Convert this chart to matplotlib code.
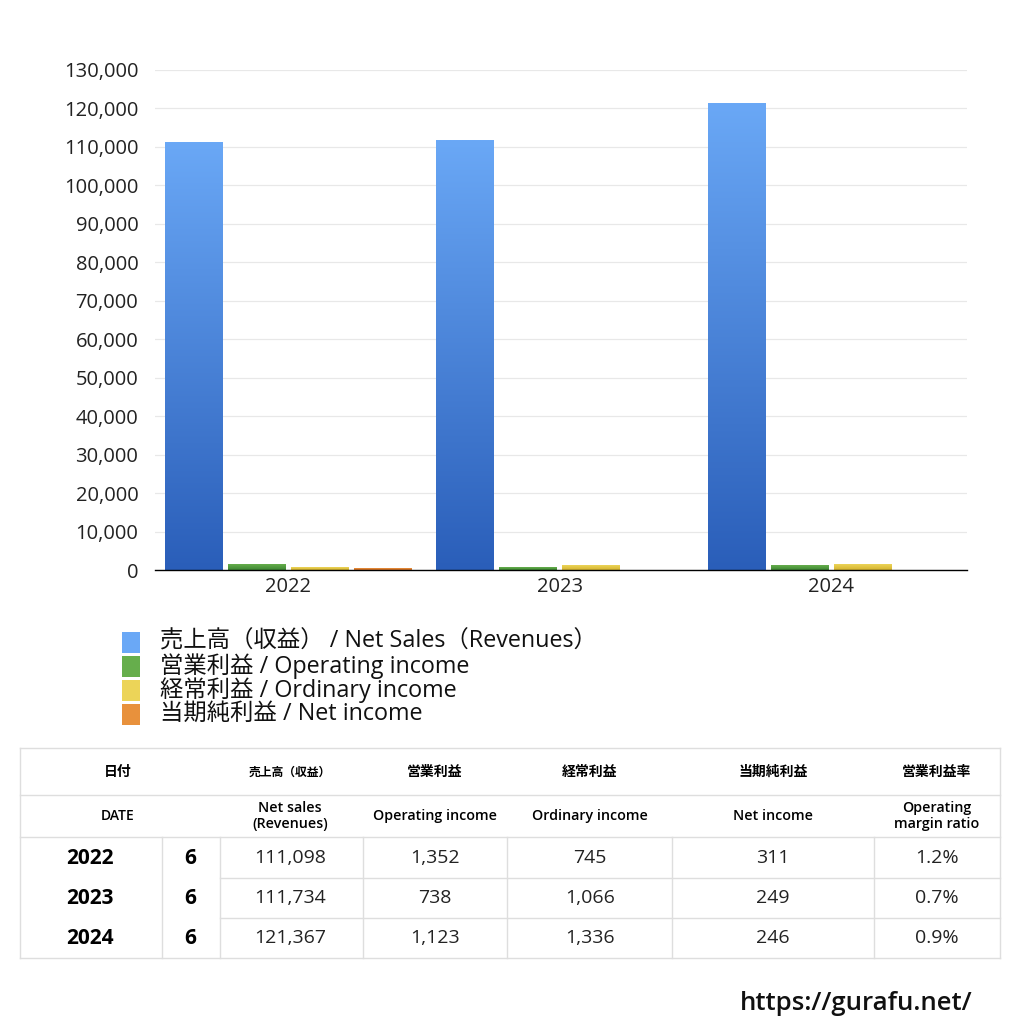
import numpy as np
import matplotlib
matplotlib.use("Agg")
import matplotlib.pyplot as plt
from matplotlib.colors import LinearSegmentedColormap
from matplotlib.patches import Rectangle
from matplotlib.ticker import FuncFormatter, MultipleLocator

plt.rcParams['font.family'] = ['Open Sans', 'Noto Sans CJK JP', 'DejaVu Sans']

# データ
years = ["2022", "2023", "2024"]
net_sales = [111098, 111734, 121367]
operating_income = [1352, 738, 1123]
ordinary_income = [745, 1066, 1336]
net_income_chart = [311, np.nan, np.nan]   # グラフ上は2022のみ表示
net_income = [311, 249, 246]
months = ["6", "6", "6"]
margin = ["1.2%", "0.7%", "0.9%"]

series_labels = ["売上高（収益） / Net Sales（Revenues）",
                 "営業利益 / Operating income",
                 "経常利益 / Ordinary income",
                 "当期純利益 / Net income"]
# (上, 下) のグラデーション色
series_colors = [("#6aa8f6", "#2a5eb9"),
                 ("#66ae4c", "#3d8633"),
                 ("#ecd458", "#d4b32e"),
                 ("#e8913c", "#d06a22")]

fig = plt.figure(figsize=(10.24, 10.24), dpi=100)
ax = fig.add_axes([155/1024, 1-570/1024, 812/1024, 500/1024])

x = np.arange(len(years))
step = 0.232
width = 0.213
all_series = [net_sales, operating_income, ordinary_income, net_income_chart]
for i, vals in enumerate(all_series):
    bars = ax.bar(x + (i - 1.5) * step, vals, width, color="none", zorder=2)
    cmap = LinearSegmentedColormap.from_list("g%d" % i, [series_colors[i][1], series_colors[i][0]])
    grad = np.linspace(0, 1, 256).reshape(-1, 1)
    for b in bars:
        h = b.get_height()
        if np.isnan(h) or h <= 0:
            continue
        x0 = b.get_x()
        ax.imshow(grad, extent=[x0, x0 + b.get_width(), 0, h], origin="lower",
                  aspect="auto", cmap=cmap, zorder=2)

ax.set_xlim(-0.49, 2.5)
ax.set_ylim(0, 130000)
ax.yaxis.set_major_locator(MultipleLocator(10000))
ax.yaxis.set_major_formatter(FuncFormatter(lambda v, p: "{:,.0f}".format(v)))
ax.set_xticks(x)
ax.set_xticklabels(years)
ax.grid(axis="y", color="#e8e8e8", linewidth=0.9, zorder=0)
ax.set_axisbelow(True)
for s in ["top", "right", "left"]:
    ax.spines[s].set_visible(False)
ax.spines["bottom"].set_color("black")
ax.spines["bottom"].set_linewidth(1.0)
ax.tick_params(axis="both", length=0, labelsize=14.5, colors="#222222")
ax.tick_params(axis="y", pad=12)
ax.tick_params(axis="x", pad=5)

# 全体を覆うオーバーレイ（ピクセル座標）
ov = fig.add_axes([0, 0, 1, 1], zorder=5)
ov.set_xlim(0, 1024)
ov.set_ylim(1024, 0)
ov.axis("off")
ov.patch.set_alpha(0)

# 凡例
for i, lab in enumerate(series_labels):
    yc = 642 + i * 24
    ov.add_patch(Rectangle((122, yc - 10), 18, 21, color=series_colors[i][0], lw=0))
    ov.text(160, yc, lab, fontsize=16.8, va="center", ha="left", color="#111111")

# 表
line_c = "#dedede"
col_edges = [20, 162, 220, 363, 507, 672, 874, 1000]
row_edges = [748, 795, 837, 878, 918, 958]
for yv in row_edges:
    x_start = 20 if yv in (748, 795, 837, 958) else 220
    ov.plot([x_start, 1000], [yv, yv], color=line_c, lw=1)
ov.plot([20, 20], [748, 958], color=line_c, lw=1)
ov.plot([1000, 1000], [748, 958], color=line_c, lw=1)
for xv in col_edges[1:-1]:
    ov.plot([xv, xv], [837, 958], color=line_c, lw=1)

hdr_y1, hdr_y2 = 772, 816
ov.text(118, hdr_y1, "日付", fontsize=10, weight="bold", ha="center", va="center")
ov.text(118, hdr_y2, "DATE", fontsize=10, weight="semibold", ha="center", va="center")
jp_heads = ["売上高（収益）", "営業利益", "経常利益", "当期純利益", "営業利益率"]
en_heads = ["Net sales\n(Revenues)", "Operating income", "Ordinary income",
            "Net income", "Operating\nmargin ratio"]
head_x = [290, 435, 590, 773, 937]
for hx, jp, en in zip(head_x, jp_heads, en_heads):
    fs = 8.5 if jp == "売上高（収益）" else 10
    ov.text(hx, hdr_y1, jp, fontsize=fs, weight="bold", ha="center", va="center")
    ov.text(hx, hdr_y2, en, fontsize=10.3, weight="semibold", ha="center", va="center",
            linespacing=1.15)

row_y = [858, 898, 938]
for r in range(len(years)):
    ov.text(90, row_y[r], years[r], fontsize=15, weight="bold", ha="center", va="center")
    ov.text(190, row_y[r], months[r], fontsize=15, weight="bold", ha="center", va="center")
    vals = ["{:,}".format(net_sales[r]), "{:,}".format(operating_income[r]),
            "{:,}".format(ordinary_income[r]), "{:,}".format(net_income[r]), margin[r]]
    for hx, v in zip(head_x, vals):
        ov.text(hx, row_y[r], v, fontsize=14, ha="center", va="center", color="#222222")

ov.text(972, 1003, "https://gurafu.net/", fontsize=18.5, weight="semibold",
        ha="right", va="center", color="#111111")

fig.savefig("out.png", dpi=100, facecolor="white")
